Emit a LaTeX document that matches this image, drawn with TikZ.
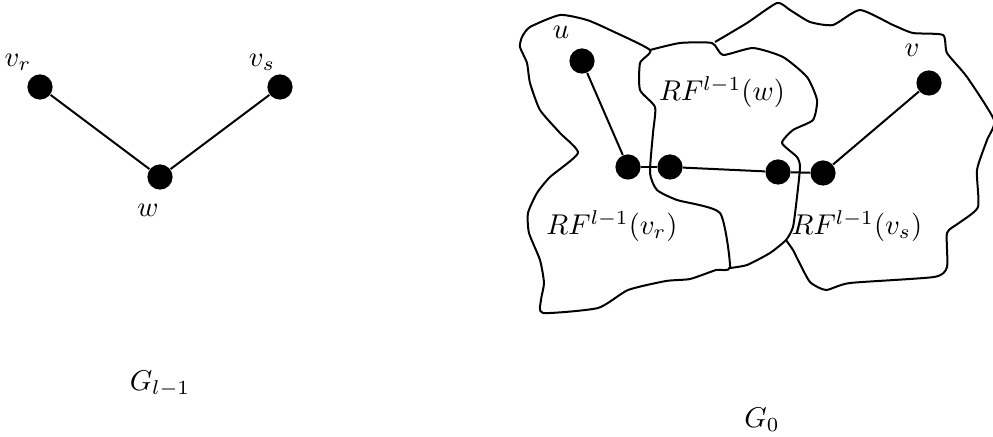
\documentclass[tikz,border=0pt]{standalone}
\usepackage{amssymb, amsmath}
\usepackage{tikz}

\begin{document}
\begin{tikzpicture}[x=0.0123cm,y=-0.0123cm,
  vertex/.style={circle,fill=black,inner sep=0pt,minimum size=0.31cm},
  link/.style={line width=0.7pt},
  region/.style={line width=0.7pt,line join=round}]

  \useasboundingbox (0,0) rectangle (993,437);

  % G_{l-1}
  \node[vertex] (v_r) at (40,87) {};
  \node[vertex] (v_s) at (280,87) {};
  \node[vertex] (w) at (160,177) {};

  \node (v_r_lab) at (18,62) {$v_r$};
  \node (v_s_lab) at (262,62) {$v_s$};
  \node (w_lab) at (148,210) {$w$};
  \node (G_l) at (160,384) {$G_{l-1}$};

  \draw[link] (v_r) -- (w);
  \draw[link] (w) -- (v_s);

  % G_0
  \draw[region] plot[smooth cycle,tension=0.35] coordinates {
    (522,37) (530,27) (560,15) (587,20) (610,30) (650,50) (640,63)
    (640,90) (655,107) (653,133) (650,173) (657,190) (677,200)
    (720,213) (730,267) (716,270) (690,279) (666,281) (628,290)
    (598,308) (543,313) (541,300) (544,283) (540,260) (529,233)
    (528,213) (537,193) (550,177) (578,153) (560,133) (540,110)
    (530,83) (527,63) (520,47)};
  \draw[region] plot[smooth,tension=0.35] coordinates {
    (650,50) (680,43) (712,43) (723,55) (753,48) (783,57) (807,77)
    (817,100) (813,120) (793,130) (782,143) (797,157) (800,167)
    (797,197) (793,227) (786,240) (770,253) (747,265) (730,268)};
  \draw[region] plot[smooth,tension=0.35] coordinates {
    (715,42) (747,23) (777,3) (790,10) (810,22) (833,25) (860,10)
    (893,25) (913,33) (943,35) (947,53) (967,77) (994,120) (987,140)
    (977,170) (978,207) (959,223) (947,233) (947,267) (934,277)
    (850,283) (826,290) (810,282) (798,260) (793,250) (786,240)};

  \node[vertex] (u) at (582,61) {};
  \node[vertex] (a_r) at (628,167) {};
  \node[vertex] (b_w) at (670,167) {};
  \node[vertex] (c_w) at (778,172) {};
  \node[vertex] (d_s) at (823,173) {};
  \node[vertex] (v) at (929,83) {};

  \node (u_lab) at (561,32) {$u$};
  \node (v_lab) at (912,50) {$v$};
  \node (RF_w) at (722,92) {$RF^{l-1}(w)$};
  \node (RF_r) at (612,226) {$RF^{l-1}(v_r)$};
  \node (RF_s) at (857,226) {$RF^{l-1}(v_s)$};
  \node (G_0) at (762,420) {$G_0$};

  \draw[link] (u) -- (a_r);
  \draw[link] (a_r) -- (b_w);
  \draw[link] (b_w) -- (c_w);
  \draw[link] (c_w) -- (d_s);
  \draw[link] (d_s) -- (v);

\end{tikzpicture}
\end{document}
